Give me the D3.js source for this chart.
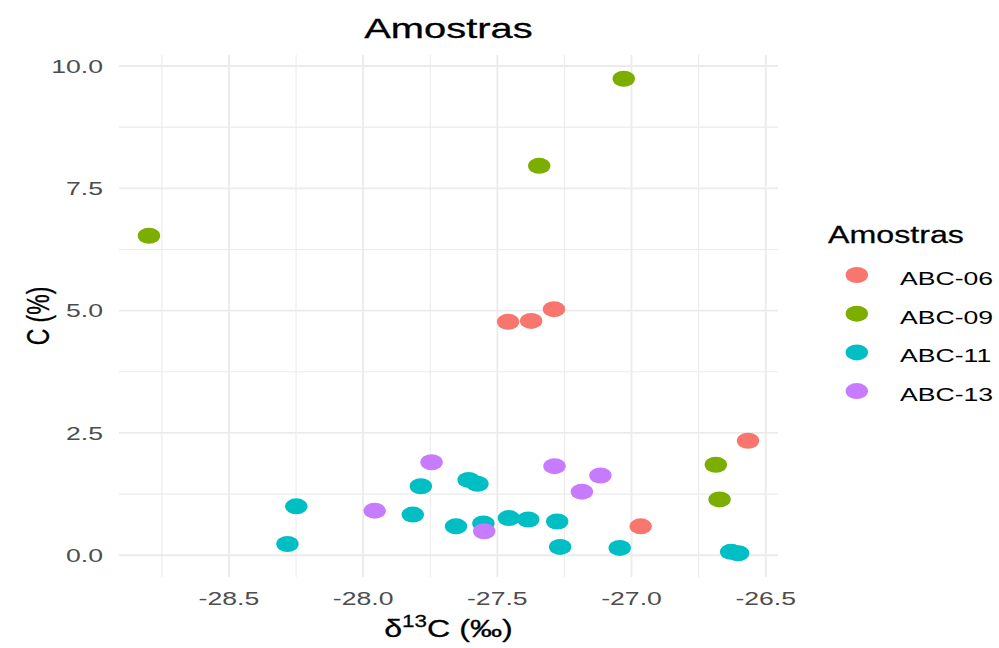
<!DOCTYPE html>
<html>
<head>
<meta charset="utf-8">
<script src="https://cdn.jsdelivr.net/npm/d3@7"></script>
<style>
  html, body { margin: 0; padding: 0; background: #fff; }
  svg { display: block; }
  text { font-family: "Liberation Sans", Arial, sans-serif; }
</style>
</head>
<body>
<script>
// groups and values
var groups = ["ABC-06", "ABC-09", "ABC-11", "ABC-13"];
var colors = ["#F8766D", "#7CAE00", "#00BFC4", "#C77CFF"];

var d13c_06 = [-27.460, -27.374, -27.289, -26.566, -26.966];
var carb_06 = [4.77, 4.79, 5.03, 2.34, 0.59];

var d13c_09 = [-28.798, -27.344, -27.029, -26.686, -26.672];
var carb_09 = [6.53, 7.96, 9.74, 1.85, 1.14];

var d13c_11 = [-28.282, -28.249, -27.815, -27.785, -27.654, -27.607, -27.574, -27.552, -27.457, -27.385, -27.277, -27.266, -27.044, -26.629, -26.603];
var carb_11 = [0.23, 1.00, 0.83, 1.41, 0.59, 1.54, 1.46, 0.65, 0.76, 0.73, 0.69, 0.17, 0.15, 0.07, 0.04];

var d13c_13 = [-27.957, -27.745, -27.549, -27.287, -27.185, -27.116];
var carb_13 = [0.91, 1.90, 0.49, 1.82, 1.30, 1.63];

var xTicks = [-28.5, -28.0, -27.5, -27.0, -26.5];
var xMinor = [-28.75, -28.25, -27.75, -27.25, -26.75];
var yTicks = [0, 2.5, 5, 7.5, 10];
var yMinor = [1.25, 3.75, 6.25, 8.75];

var xs = [d13c_06, d13c_09, d13c_11, d13c_13];
var ys = [carb_06, carb_09, carb_11, carb_13];

// the picture is stretched sideways, so draw in a narrower box and stretch it
var SX = 1.4;
var W = 999 / SX, H = 648;
var panel = {left: 85, right: 555.7, top: 55, bottom: 577};

var svg = d3.select("body").append("svg")
  .attr("width", 999).attr("height", 648)
  .attr("viewBox", "0 0 " + W + " " + H)
  .attr("preserveAspectRatio", "none");

var points = [];
groups.forEach(function(g, i) {
  xs[i].forEach(function(v, j) {
    points.push({group: g, gi: i, x: v, y: ys[i][j]});
  });
});

function expand(ext) {
  var pad = (ext[1] - ext[0]) * 0.05;
  return [ext[0] - pad, ext[1] + pad];
}

var x = d3.scaleLinear()
  .domain(expand(d3.extent(points, function(d) { return d.x; })))
  .range([panel.left, panel.right]);
var y = d3.scaleLinear()
  .domain(expand(d3.extent(points, function(d) { return d.y; })))
  .range([panel.bottom, panel.top]);

var grid = svg.append("g");
// minor grid
grid.selectAll(".xminor").data(xMinor).enter().append("line")
  .attr("x1", function(d) { return x(d); }).attr("x2", function(d) { return x(d); })
  .attr("y1", panel.top).attr("y2", panel.bottom)
  .attr("stroke", "#ebebeb").attr("stroke-width", 1.1 / SX);
grid.selectAll(".yminor").data(yMinor).enter().append("line")
  .attr("x1", panel.left).attr("x2", panel.right)
  .attr("y1", function(d) { return y(d); }).attr("y2", function(d) { return y(d); })
  .attr("stroke", "#ebebeb").attr("stroke-width", 1.1);
// major grid
grid.selectAll(".xmajor").data(xTicks).enter().append("line")
  .attr("x1", function(d) { return x(d); }).attr("x2", function(d) { return x(d); })
  .attr("y1", panel.top).attr("y2", panel.bottom)
  .attr("stroke", "#ebebeb").attr("stroke-width", 1.8 / SX);
grid.selectAll(".ymajor").data(yTicks).enter().append("line")
  .attr("x1", panel.left).attr("x2", panel.right)
  .attr("y1", function(d) { return y(d); }).attr("y2", function(d) { return y(d); })
  .attr("stroke", "#ebebeb").attr("stroke-width", 1.8);

// tick labels
svg.selectAll(".xlab").data(xTicks).enter().append("text")
  .attr("x", function(d) { return x(d); })
  .attr("y", 605)
  .attr("text-anchor", "middle")
  .attr("font-size", 19)
  .attr("fill", "#4d4d4d")
  .text(function(d) { return d3.format(".1f")(d).replace("−", "-"); });

svg.selectAll(".ylab").data(yTicks).enter().append("text")
  .attr("x", 73.6)
  .attr("y", function(d) { return y(d); })
  .attr("dy", "0.36em")
  .attr("text-anchor", "end")
  .attr("font-size", 19)
  .attr("fill", "#4d4d4d")
  .text(function(d) { return d3.format(".1f")(d); });

// points
svg.append("g").selectAll("circle").data(points).enter().append("circle")
  .attr("cx", function(d) { return x(d.x); })
  .attr("cy", function(d) { return y(d.y); })
  .attr("r", 8)
  .attr("fill", function(d) { return colors[d.gi]; });

// title
svg.append("text")
  .attr("x", (panel.left + panel.right) / 2).attr("y", 38)
  .attr("text-anchor", "middle").attr("font-size", 28.5).attr("fill", "#000")
  .attr("stroke", "#000").attr("stroke-width", 0.3)
  .text("Amostras");

// axis titles
var xt = svg.append("text")
  .attr("x", (panel.left + panel.right) / 2).attr("y", 637)
  .attr("text-anchor", "middle").attr("font-size", 23).attr("fill", "#000")
  .attr("stroke", "#000").attr("stroke-width", 0.25);
xt.append("tspan").text("δ");
xt.append("tspan").attr("dy", -10).attr("font-size", 16).text("13");
xt.append("tspan").attr("dy", 10).text("C (‰)");

svg.append("text")
  .attr("transform", "translate(27," + ((panel.top + panel.bottom) / 2) + ") rotate(-90)")
  .attr("text-anchor", "middle").attr("dy", "0.35em")
  .attr("font-size", 23).attr("fill", "#000")
  .attr("stroke", "#000").attr("stroke-width", 0.25)
  .text("C (%)");

// legend
var legend = svg.append("g");
legend.append("text")
  .attr("x", 591.4).attr("y", 243)
  .attr("font-size", 23).attr("fill", "#000")
  .attr("stroke", "#000").attr("stroke-width", 0.25)
  .text("Amostras");
var items = legend.selectAll(".item").data(groups).enter().append("g")
  .attr("transform", function(d, i) { return "translate(0," + (275 + i * 38.7) + ")"; });
items.append("circle")
  .attr("cx", 612).attr("cy", 0).attr("r", 8)
  .attr("fill", function(d, i) { return colors[i]; });
items.append("text")
  .attr("x", 642.9).attr("y", 10)
  .attr("font-size", 19).attr("fill", "#000")
  .text(function(d) { return d; });
</script>
</body>
</html>
